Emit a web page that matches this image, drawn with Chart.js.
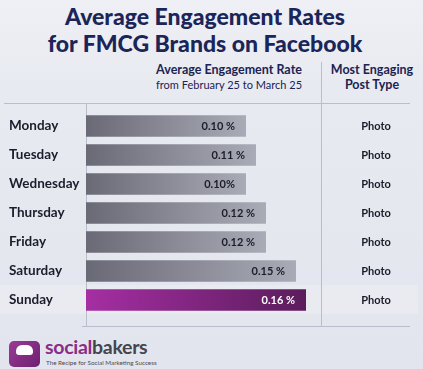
<!DOCTYPE html>
<html lang="en">
<head>
<meta charset="UTF-8">
<title>Average Engagement Rates for FMCG Brands on Facebook</title>
<script src="https://cdn.jsdelivr.net/npm/chart.js"></script>
<style>
    html, body { margin: 0; padding: 0; }
    body {
        width: 423px; height: 369px; overflow: hidden; position: relative;
        font-family: Lato, "Open Sans", sans-serif;
        background: linear-gradient(180deg, #eef0f5 0%, #e8eaf1 25%, #e3e5ee 100%);
    }
    .abs { position: absolute; white-space: nowrap; }
    #title { left: 0; width: 410px; top: 3px; text-align: center; color: #1b2558;
             font-weight: 900; font-size: 23px; line-height: 27px; }
    .head { color: #1c2350; font-weight: 700; font-size: 12.5px; line-height: 15px; text-align: center; }
    .sub { font-weight: 400; font-size: 11px; }
    .line { position: absolute; background: #b9bdcc; }
    #sunRow { left: 0; top: 285px; width: 418px; height: 29px; background: rgba(255,255,255,0.2); }
    #logoBox { left: 9px; top: 341px; width: 31px; height: 26px; border-radius: 5px;
               background: linear-gradient(135deg, #9a3a96, #6e2170); }
    #hat { left: 16px; top: 345px; width: 17px; height: 10px; border-radius: 6px 6px 3px 3px; background: #fff; }
    #brand { left: 45px; top: 336px; font-weight: 700; font-size: 19.5px; line-height: 22px; letter-spacing: -0.3px; }
    #tag { left: 46px; top: 359px; font-size: 6.3px; color: #4a4a55; }
    canvas { position: absolute; left: 0; top: 0; }
</style>
</head>
<body>
    <div id="sunRow" class="abs"></div>
    <div id="title" class="abs">Average Engagement Rates<br>for FMCG Brands on Facebook</div>
    <div class="abs head" style="left:140px; width:178px; top:62px;">Average Engagement Rate<br><span class="sub">from February 25 to March 25</span></div>
    <div class="abs head" style="left:324px; width:96px; top:62px;">Most Engaging<br>Post Type</div>

    <div class="line" style="left:4px; top:103px; width:406px; height:1px;"></div>
    <div class="line" style="left:82px; top:326px; width:328px; height:1px;"></div>
    <div class="line" style="left:86px; top:103px; width:1px; height:223px;"></div>
    <div class="line" style="left:321px; top:62px; width:1px; height:264px;"></div>

    <div id="logoBox" class="abs"></div>
    <div id="hat" class="abs"></div>
    <div id="brand" class="abs"><span style="color:#8a2c88">social</span><span style="color:#45454d">bakers</span></div>
    <div id="tag" class="abs">The Recipe for Social Marketing Success</div>

    <canvas id="chart" width="423" height="369"></canvas>
<script>
    const days = ['Monday', 'Tuesday', 'Wednesday', 'Thursday', 'Friday', 'Saturday', 'Sunday'];
    const rates = [0.10, 0.11, 0.10, 0.12, 0.12, 0.15, 0.16];
    const rateLabels = ['0.10 %', '0.11 %', '0.10%', '0.12 %', '0.12 %', '0.15 %', '0.16 %'];
    const postTypes = ['Photo', 'Photo', 'Photo', 'Photo', 'Photo', 'Photo', 'Photo'];

    const X_MIN = -0.06, X_MAX = 0.18;
    const highlight = days.length - 1; // Sunday bar is purple

    function barColor(context) {
        const chart = context.chart;
        const i = context.dataIndex;
        const x = chart.scales.x;
        if (!chart.chartArea || !x) return '#8e8f9a';
        const g = chart.ctx.createLinearGradient(x.getPixelForValue(X_MIN), 0, x.getPixelForValue(rates[i]), 0);
        if (i === highlight) {
            g.addColorStop(0, '#a52ea3');
            g.addColorStop(1, '#5b1d5c');
        } else {
            g.addColorStop(0, '#6a6a77');
            g.addColorStop(1, '#a9abb6');
        }
        return g;
    }

    // day names, value labels and post type column
    const textPlugin = {
        id: 'rowText',
        afterDatasetsDraw(chart) {
            const ctx = chart.ctx;
            const y = chart.scales.y, x = chart.scales.x;
            ctx.save();
            ctx.textBaseline = 'middle';
            days.forEach((d, i) => {
                const cy = y.getPixelForValue(i);
                ctx.fillStyle = '#1c1c2a';
                ctx.font = '700 13.5px Lato';
                ctx.textAlign = 'left';
                ctx.fillText(d, 9, cy);

                ctx.font = '700 11px Lato';
                ctx.textAlign = 'right';
                ctx.fillStyle = i === highlight ? '#ffffff' : '#1c1c2a';
                ctx.fillText(rateLabels[i], x.getPixelForValue(rates[i]) - 11, cy);

                ctx.fillStyle = '#1c1c2a';
                ctx.textAlign = 'center';
                ctx.fillText(postTypes[i], 376, cy);
            });
            ctx.restore();
        }
    };

    new Chart(document.getElementById('chart'), {
        type: 'bar',
        data: {
            labels: days,
            datasets: [{
                data: rates,
                base: X_MIN,
                backgroundColor: barColor,
                borderWidth: 0,
                barPercentage: 0.74,
                categoryPercentage: 1
            }]
        },
        options: {
            indexAxis: 'y',
            responsive: false,
            devicePixelRatio: 1,
            animation: false,
            layout: { padding: { left: 86, right: 97, top: 111.5, bottom: 54.5 } },
            scales: {
                x: { display: false, min: X_MIN, max: X_MAX },
                y: { display: false }
            },
            plugins: { legend: { display: false }, tooltip: { enabled: false } }
        },
        plugins: [textPlugin]
    });
</script>
</body>
</html>
